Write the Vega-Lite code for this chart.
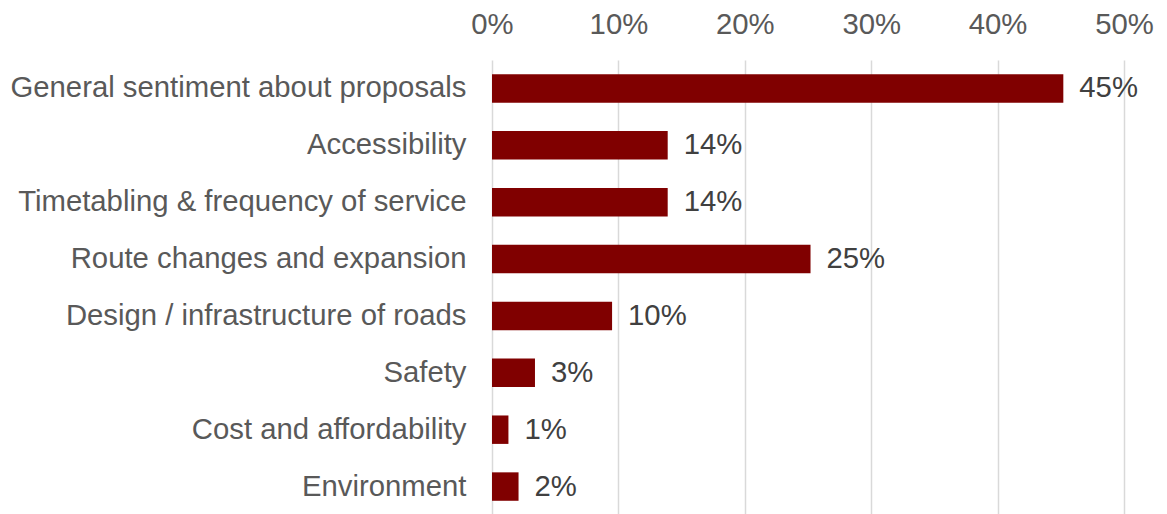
{
  "$schema": "https://vega.github.io/schema/vega-lite/v6.json",
  "autosize": {"type": "none"},
  "padding": {"left": 492, "top": 60, "right": 43, "bottom": 0},
  "width": 632,
  "height": 455,
  "background": "white",
  "config": {"view": {"stroke": null}, "font": "Liberation Sans"},
  "data": {
    "values": [
      {"category": "General sentiment about proposals", "value": 0.452},
      {"category": "Accessibility\u2008", "value": 0.139},
      {"category": "Timetabling & frequency of service", "value": 0.139},
      {"category": "Route changes and expansion", "value": 0.252},
      {"category": "Design / infrastructure of roads", "value": 0.095},
      {"category": "Safety", "value": 0.034},
      {"category": "Cost and affordability", "value": 0.013},
      {"category": "Environment", "value": 0.021}
    ]
  },
  "encoding": {
    "y": {
      "field": "category",
      "type": "nominal",
      "sort": null,
      "scale": {"paddingInner": 0.5, "paddingOuter": 0.25},
      "axis": {
        "title": null,
        "domain": false,
        "ticks": false,
        "labelFont": "Liberation Sans",
        "labelFontSize": 29.3,
        "labelColor": "#595959",
        "labelPadding": 26,
        "labelLimit": 600
      }
    },
    "x": {
      "field": "value",
      "type": "quantitative",
      "scale": {"domain": [0, 0.5], "nice": false},
      "axis": {
        "orient": "top",
        "format": ".0%",
        "values": [0, 0.1, 0.2, 0.3, 0.4, 0.5],
        "title": null,
        "domain": false,
        "ticks": false,
        "grid": true,
        "gridColor": "#d9d9d9",
        "gridWidth": 1.5,
        "labelFont": "Liberation Sans",
        "labelFontSize": 29.3,
        "labelColor": "#595959",
        "labelPadding": 21,
        "labelFlush": false
      }
    }
  },
  "layer": [
    {"mark": {"type": "bar", "color": "#800000"}},
    {
      "mark": {"type": "text", "align": "left", "baseline": "middle", "dx": 16, "font": "Liberation Sans", "fontSize": 29.3, "color": "#404040"},
      "encoding": {"text": {"field": "value", "type": "quantitative", "format": ".0%"}}
    }
  ]
}
